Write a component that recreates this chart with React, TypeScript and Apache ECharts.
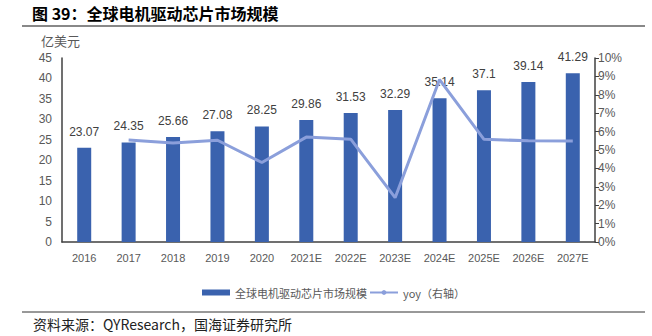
import React, { useEffect, useRef } from "react";
import * as echarts from "echarts";

const categories = ["2016", "2017", "2018", "2019", "2020", "2021E", "2022E", "2023E", "2024E", "2025E", "2026E", "2027E"];
const marketSize = [23.07, 24.35, 25.66, 27.08, 28.25, 29.86, 31.53, 32.29, 35.14, 37.1, 39.14, 41.29];
const yoy = [null, 5.55, 5.38, 5.53, 4.32, 5.7, 5.59, 2.41, 8.83, 5.58, 5.5, 5.49];
const leftTicks = { min: 0, max: 45, interval: 5 };
const rightTicks = { min: 0, max: 10, interval: 1 };

const CJK = '"Noto Sans CJK SC", "Noto Sans", sans-serif';
const LAT = 'Arial, "Liberation Sans", "Noto Sans CJK SC", sans-serif';

export default function App() {
  const ref = useRef<HTMLDivElement>(null);
  useEffect(() => {
    if (!ref.current) return;
    const chart = echarts.init(ref.current, undefined, { renderer: "svg" });
    chart.setOption({
      animation: false,
      backgroundColor: "#ffffff",
      grid: { left: 62, right: 57, top: 58, bottom: 94, containLabel: false },
      legend: {
        data: [
          { name: "全球电机驱动芯片市场规模", icon: "rect" },
          { name: "yoy（右轴）" },
        ],
        left: 197,
        top: 282,
        itemWidth: 28,
        itemHeight: 6,
        itemGap: 2,
        textStyle: { fontSize: 11, color: "#595959", fontFamily: CJK },
      },
      graphic: [
        {
          type: "text",
          left: 32,
          top: 5,
          style: { text: "图 39：全球电机驱动芯片市场规模", font: `bold 16px ${CJK}`, fill: "#000" },
        },
        { type: "line", shape: { x1: 22, y1: 26, x2: 645, y2: 26 }, style: { stroke: "#888888", lineWidth: 2 } },
        { type: "line", shape: { x1: 22, y1: 312, x2: 645, y2: 312 }, style: { stroke: "#333333", lineWidth: 1 } },
        {
          type: "text",
          left: 33,
          top: 317,
          style: { text: "资料来源：QYResearch，国海证券研究所", font: `14px ${CJK}`, fill: "#222" },
        },
        {
          type: "text",
          left: 41,
          top: 34,
          style: { text: "亿美元", font: `13px ${CJK}`, fill: "#595959" },
        },
      ],
      xAxis: {
        type: "category",
        data: categories,
        axisLine: { show: true, lineStyle: { color: "#404040", width: 1.5 } },
        axisTick: { show: false },
        axisLabel: { color: "#595959", fontSize: 11, fontFamily: LAT, margin: 10 },
      },
      yAxis: [
        {
          type: "value",
          min: leftTicks.min,
          max: leftTicks.max,
          interval: leftTicks.interval,
          axisLine: { show: true, lineStyle: { color: "#404040", width: 1.5 } },
          axisTick: { show: false },
          splitLine: { show: false },
          axisLabel: { color: "#595959", fontSize: 12, fontFamily: LAT, margin: 10 },
        },
        {
          type: "value",
          min: rightTicks.min,
          max: rightTicks.max,
          interval: rightTicks.interval,
          position: "right",
          axisLine: { show: true, lineStyle: { color: "#404040", width: 1.5 } },
          axisTick: { show: true, length: 4, lineStyle: { color: "#404040" } },
          splitLine: { show: false },
          axisLabel: { color: "#595959", fontSize: 12, fontFamily: LAT, margin: 3, formatter: "{value}%" },
        },
      ],
      series: [
        {
          name: "全球电机驱动芯片市场规模",
          type: "bar",
          data: marketSize,
          barWidth: 14,
          itemStyle: { color: "#3a62ae" },
          label: { show: true, position: "top", distance: 10, color: "#404040", fontSize: 12, fontFamily: LAT },
        },
        {
          name: "yoy（右轴）",
          type: "line",
          yAxisIndex: 1,
          data: yoy,
          symbol: "none",
          lineStyle: { color: "#8b9fdb", width: 3 },
          itemStyle: { color: "#8b9fdb" },
        },
      ],
    });
    return () => chart.dispose();
  }, []);
  return <div ref={ref} style={{ position: "fixed", left: 0, top: 0, width: 652, height: 336 }} />;
}
